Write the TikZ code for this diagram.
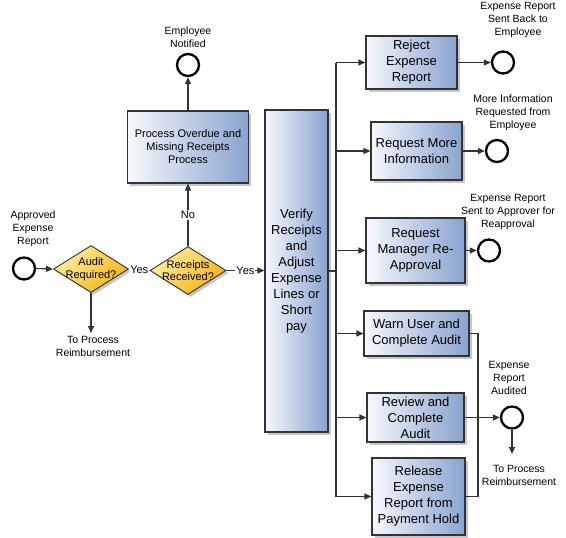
\documentclass[tikz,border=0pt]{standalone}
\usepackage{fontspec}
\setmainfont{Liberation Sans}
\usetikzlibrary{shapes.geometric,arrows.meta,shadows}
\definecolor{boxL}{RGB}{246,248,252}
\definecolor{boxR}{RGB}{137,163,207}
\definecolor{dY}{RGB}{255,238,160}
\definecolor{dO}{RGB}{244,178,18}
\definecolor{lncol}{RGB}{51,51,51}
\tikzset{
  task/.style={rectangle, draw=lncol, line width=1.1pt, left color=boxL, right color=boxR,
    align=center, inner sep=2pt, font=\fontsize{13}{16}\selectfont,
    drop shadow={shadow xshift=2.5pt,shadow yshift=-2.5pt,fill=black!22,opacity=1}},
  gate/.style={diamond, draw=lncol, line width=0.9pt, top color=dY, bottom color=dO,
    shading angle=45, inner sep=0pt,
    drop shadow={shadow xshift=2.5pt,shadow yshift=-2.5pt,fill=black!22,opacity=1}},
  gtext/.style={align=center, inner sep=0pt, font=\fontsize{11}{12.5}\selectfont},
  ev/.style={circle, draw=black, line width=2.3pt, minimum size=22pt, inner sep=0pt, fill=white},
  lbl/.style={align=center, inner sep=1pt, font=\fontsize{10.5}{13}\selectfont},
  yeslbl/.style={fill=white, inner sep=1pt, font=\fontsize{11}{13}\selectfont},
  conn/.style={draw=lncol, line width=1.1pt},
  arr/.style={draw=lncol, line width=1.1pt, -{Triangle[length=7pt,width=6pt]}},
}
\begin{document}
\begin{tikzpicture}[x=1pt,y=-1pt]
\useasboundingbox (0,0) rectangle (566,538);
% left part
\node[ev] (start) at (24,268.5) {};
\node[lbl] (lstart) at (33,229) {Approved\\Expense\\Report};
\node[gate, minimum width=75pt, minimum height=47pt,
  label={[gtext]center:{Audit\\Required?}}] (audit) at (91,269) {};
\node[gate, minimum width=76pt, minimum height=48pt,
  label={[gtext]center:{Receipts\\Received?}}] (rec) at (188,270.5) {};
\coordinate (e1) at (91,333);
\node[lbl] (lreimb1) at (93,346.5) {To Process\\Reimbursement};
\node[task, minimum width=121pt, minimum height=72pt, font=\fontsize{11}{13}\selectfont]
  (over) at (188,147) {Process Overdue and\\Missing Receipts\\Process};
\node[ev] (emp) at (188,65) {};
\node[lbl] (lemp) at (188,37) {Employee\\Notified};
\node[task, minimum width=63pt, minimum height=322pt] (verify) at (296.5,271)
  {Verify\\Receipts\\and\\Adjust\\Expense\\Lines or\\Short\\pay};
% right part
\coordinate (bus) at (336,0);
\coordinate (mg) at (478,0);
\node[task, minimum width=91pt, minimum height=53pt] (reject) at (411.5,62.5) {Reject\\Expense\\Report};
\node[task, minimum width=91pt, minimum height=58pt] (more) at (416.5,151) {Request More\\Information};
\node[task, minimum width=99pt, minimum height=65pt] (mgr) at (415.5,250.5) {Request\\Manager Re-\\Approval};
\node[task, minimum width=105pt, minimum height=45pt] (warn) at (416.5,333.5) {Warn User and\\Complete Audit};
\node[task, minimum width=97pt, minimum height=49pt] (review) at (415.5,417.5) {Review and\\Complete\\Audit};
\node[task, minimum width=93pt, minimum height=77pt] (release) at (418.5,496.5) {Release\\Expense\\Report from\\Payment Hold};
\node[ev] (c1) at (503,62.5) {};
\node[lbl] (l1) at (518,20) {Expense Report\\Sent Back to\\Employee};
\node[ev] (c2) at (497,151) {};
\node[lbl] (l2) at (513,113) {More Information\\Requested from\\Employee};
\node[ev] (c3) at (489,250.5) {};
\node[lbl] (l3) at (508,212) {Expense Report\\Sent to Approver for\\Reapproval};
\node[ev] (c4) at (512,417.5) {};
\node[lbl] (l4) at (509,378) {Expense\\Report\\Audited};
\coordinate (e2) at (512,454);
\node[lbl] (lreimb2) at (519,475) {To Process\\Reimbursement};
% connectors
\draw[arr] (start.east) -- (audit.west);
\draw[arr] (audit.east) -- node[yeslbl]{Yes} (rec.west);
\draw[arr] (rec.east) -- node[yeslbl]{Yes} (rec.east -| verify.west);
\draw[arr] (rec.north) -- node[yeslbl]{No} (over.south);
\draw[arr] (over.north) -- (emp.south);
\draw[arr] (audit.south) -- (e1);
\draw[conn] (verify.east) -- (verify.east -| bus);
\draw[conn] (bus |- reject.west) -- (bus |- release.west);
\draw[arr] (bus |- reject.west) -- (reject.west);
\draw[arr] (bus |- more.west) -- (more.west);
\draw[arr] (bus |- mgr.west) -- (mgr.west);
\draw[arr] (bus |- warn.west) -- (warn.west);
\draw[arr] (bus |- review.west) -- (review.west);
\draw[arr] (bus |- release.west) -- (release.west);
\draw[arr] (reject.east) -- (c1.west);
\draw[arr] (more.east) -- (c2.west);
\draw[arr] (mgr.east) -- (c3.west);
\draw[conn] (warn.east) -- (warn.east -| mg) -- (release.east -| mg) -- (release.east);
\draw[arr] (review.east) -- (c4.west);
\draw[arr] (c4.south) -- (e2);
\end{tikzpicture}
\end{document}
